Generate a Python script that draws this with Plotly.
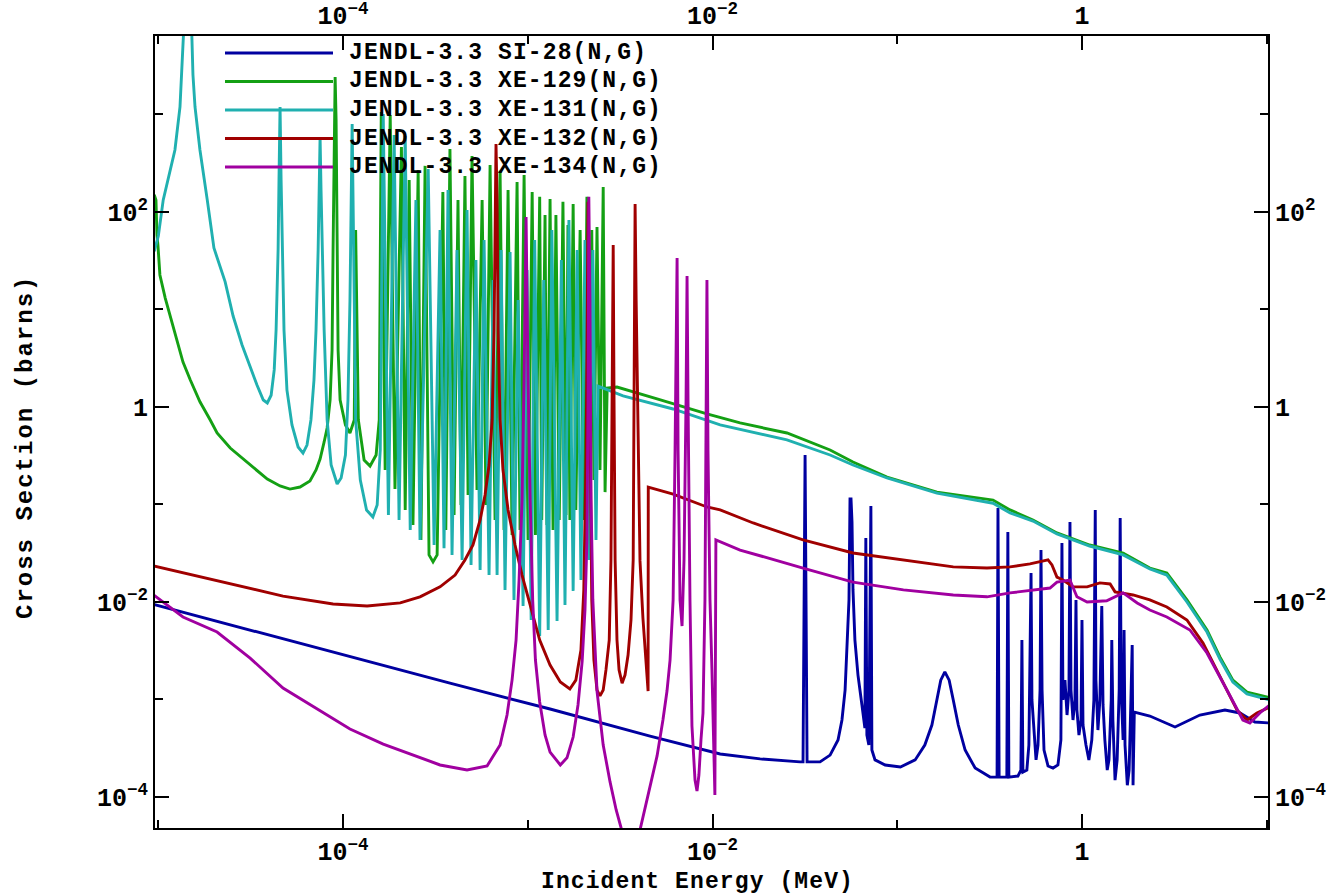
import plotly.graph_objects as go

# JENDL-3.3 radiative capture (n,gamma) cross sections.
# Each series: (incident energy in MeV, cross section in barns)
si28_ng = [
    (9.5e-6, 9.4e-3), (3.14e-5, 5.16e-3), (1.0e-4, 2.86e-3), (3.79e-4, 1.47e-3),
    (1.32e-3, 7.99e-4), (4.59e-3, 4.22e-4), (1.10e-2, 2.76e-4), (1.81e-2, 2.46e-4),
    (2.98e-2, 2.29e-4), (3.09e-2, 2.29e-4), (3.17e-2, 0.322), (3.25e-2, 2.29e-4),
    (3.82e-2, 2.29e-4), (4.33e-2, 2.69e-4), (4.78e-2, 3.84e-4), (5.02e-2, 6.16e-4),
    (5.22e-2, 1.25e-3), (5.35e-2, 3.22e-3), (5.48e-2, 1.05e-2), (5.55e-2, 0.114),
    (5.62e-2, 0.114), (5.69e-2, 0.0661), (5.76e-2, 0.0133), (5.90e-2, 4.07e-3),
    (6.13e-2, 1.78e-3), (6.44e-2, 8.79e-4), (6.68e-2, 5.09e-4), (6.76e-2, 0.0454),
    (6.85e-2, 4.32e-4), (7.02e-2, 3.41e-4), (7.20e-2, 0.0966), (7.29e-2, 3.03e-4),
    (7.58e-2, 2.40e-4), (8.60e-2, 2.13e-4), (0.104, 2.03e-4), (0.125, 2.40e-4),
    (0.141, 3.41e-4), (0.154, 5.47e-4), (0.164, 9.89e-4), (0.172, 1.58e-3),
    (0.181, 1.92e-3), (0.191, 1.58e-3), (0.201, 9.89e-4), (0.214, 5.47e-4),
    (0.233, 3.03e-4), (0.264, 1.98e-4), (0.318, 1.60e-4), (0.347, 1.60e-4),
    (0.351, 0.0921), (0.356, 1.60e-4), (0.392, 1.60e-4), (0.397, 0.0523),
    (0.402, 1.60e-4), (0.450, 1.64e-4), (0.467, 1.89e-4), (0.473, 4.07e-3),
    (0.479, 1.80e-4), (0.503, 1.89e-4), (0.516, 3.41e-4), (0.530, 0.0198),
    (0.536, 9.89e-4), (0.550, 4.86e-4), (0.564, 2.40e-4), (0.578, 3.41e-4),
    (0.593, 1.25e-3), (0.600, 0.0341), (0.608, 1.25e-3), (0.623, 3.03e-4),
    (0.655, 2.08e-4), (0.697, 1.98e-4), (0.741, 2.13e-4), (0.769, 3.84e-4),
    (0.779, 0.0403), (0.789, 9.89e-4), (0.809, 1.58e-3), (0.830, 6.93e-4),
    (0.850, 1.25e-3), (0.861, 0.0661), (0.872, 1.25e-3), (0.894, 6.16e-4),
    (0.916, 9.89e-4), (0.928, 0.0105), (0.939, 7.80e-4), (0.963, 4.32e-4),
    (0.988, 6.16e-4), (1.00, 6.54e-3), (1.013, 5.47e-4), (1.051, 3.41e-4),
    (1.09, 2.40e-4), (1.13, 3.84e-4), (1.16, 9.89e-4), (1.18, 0.0879),
    (1.19, 1.58e-3), (1.22, 4.86e-4), (1.25, 9.89e-4), (1.28, 9.10e-3),
    (1.30, 8.79e-4), (1.33, 3.84e-4), (1.37, 1.89e-4), (1.40, 2.40e-4),
    (1.44, 9.89e-4), (1.45, 4.07e-3), (1.47, 6.16e-4), (1.51, 1.49e-4),
    (1.55, 2.40e-4), (1.59, 1.25e-3), (1.61, 0.0726), (1.63, 1.25e-3),
    (1.67, 3.84e-4), (1.69, 5.16e-3), (1.71, 3.41e-4), (1.76, 1.32e-4),
    (1.80, 1.89e-4), (1.84, 9.89e-4), (1.87, 3.62e-3), (1.89, 1.32e-4),
    (1.92, 7.44e-4), (2.33, 6.77e-4), (3.19, 5.22e-4), (4.35, 6.93e-4),
    (5.94, 7.80e-4), (7.16, 7.27e-4), (8.63, 5.88e-4), (10.4, 5.74e-4),
]

xe129_ng = [
    (9.5e-6, 150), (9.71e-6, 133), (9.83e-6, 58.1), (9.95e-6, 45.8),
    (1.02e-5, 22.6), (1.09e-5, 13.1), (1.16e-5, 8.57), (1.26e-5, 4.86),
    (1.36e-5, 2.89), (1.49e-5, 1.89), (1.68e-5, 1.13), (1.91e-5, 0.736),
    (2.08e-5, 0.541), (2.45e-5, 0.379), (2.88e-5, 0.293), (3.34e-5, 0.231),
    (3.89e-5, 0.182), (4.56e-5, 0.155), (5.16e-5, 0.144), (5.85e-5, 0.151),
    (6.62e-5, 0.174), (7.14e-5, 0.226), (7.51e-5, 0.293), (7.90e-5, 0.438),
    (8.20e-5, 0.609), (8.51e-5, 1.18), (8.72e-5, 3.84), (8.83e-5, 40.7),
    (8.94e-5, 879), (9.06e-5, 2425), (9.17e-5, 879), (9.29e-5, 40.7),
    (9.40e-5, 3.84), (9.64e-5, 1.18), (1.03e-4, 0.654), (1.09e-4, 0.541),
    (1.15e-4, 0.736), (1.17e-4, 65.4), (1.21e-4, 0.736), (1.30e-4, 0.286),
    (1.40e-4, 0.248), (1.51e-4, 0.322), (1.57e-4, 0.736), (1.61e-4, 1061),
    (1.69e-4, 0.226), (1.80e-4, 989), (1.91e-4, 0.144), (2.07e-4, 464),
    (2.17e-4, 0.0879), (2.28e-4, 213), (2.39e-4, 0.0617), (2.55e-4, 270),
    (2.64e-4, 0.0433), (2.78e-4, 297), (2.92e-4, 0.0304), (3.07e-4, 0.0258),
    (3.23e-4, 0.0304), (3.47e-4, 160), (3.60e-4, 0.0548), (3.79e-4, 442),
    (3.99e-4, 0.0780), (4.19e-4, 133), (4.35e-4, 0.0989), (4.57e-4, 234),
    (4.75e-4, 0.125), (4.99e-4, 375), (5.31e-4, 0.141), (5.66e-4, 133),
    (5.94e-4, 0.0989), (6.25e-4, 304), (6.65e-4, 0.0693), (7.08e-4, 264),
    (7.44e-4, 0.0548), (7.82e-4, 168), (8.22e-4, 0.0487), (8.75e-4, 203),
    (9.08e-4, 0.0548), (9.55e-4, 240), (1.003e-3, 0.0433), (1.056e-3, 160),
    (1.10e-3, 0.0487), (1.16e-3, 143), (1.19e-3, 0.0693), (1.24e-3, 93.2),
    (1.27e-3, 0.0617), (1.32e-3, 136), (1.37e-3, 0.0548), (1.42e-3, 93.2),
    (1.48e-3, 0.0693), (1.55e-3, 127), (1.61e-3, 0.0780), (1.65e-3, 73.6),
    (1.69e-3, 0.0693), (1.76e-3, 121), (1.82e-3, 0.0879), (1.92e-3, 65.4),
    (2.01e-3, 0.0693), (2.09e-3, 143), (2.17e-3, 0.111), (2.22e-3, 65.4),
    (2.28e-3, 0.178), (2.37e-3, 70.2), (2.46e-3, 0.226), (2.56e-3, 180),
    (2.62e-3, 0.134), (2.69e-3, 1.56), (3.04e-3, 1.60), (5.01e-3, 1.21),
    (9.33e-3, 0.848), (1.41e-2, 0.686), (2.53e-2, 0.541), (4.33e-2, 0.362),
    (5.76e-2, 0.273), (8.80e-2, 0.191), (0.164, 0.134), (0.330, 0.111),
    (0.408, 0.0879), (0.543, 0.0693), (0.732, 0.0511), (1.10, 0.0384),
    (1.67, 0.0318), (2.33, 0.0223), (2.88, 0.0198), (3.70, 0.0105),
    (4.75, 5.16e-3), (5.58, 2.73e-3), (6.56, 1.58e-3), (7.82, 1.19e-3),
    (10.4, 1.04e-3),
]

xe131_ng = [
    (9.5e-6, 39.5), (1.0e-5, 56.7), (1.063e-5, 133), (1.13e-5, 223),
    (1.23e-5, 432), (1.31e-5, 1194), (1.34e-5, 2542), (1.36e-5, 4590),
    (1.38e-5, 9310), (1.51e-5, 9310), (1.53e-5, 4590), (1.54e-5, 2542),
    (1.58e-5, 1194), (1.68e-5, 432), (1.84e-5, 133), (2.00e-5, 42.7),
    (2.30e-5, 19.2), (2.54e-5, 8.57), (2.84e-5, 4.32), (3.14e-5, 2.58),
    (3.42e-5, 1.68), (3.70e-5, 1.18), (3.89e-5, 1.10), (4.08e-5, 1.32),
    (4.24e-5, 2.40), (4.34e-5, 6.16), (4.45e-5, 40.7), (4.50e-5, 213),
    (4.56e-5, 1194), (4.62e-5, 213), (4.68e-5, 40.7), (4.79e-5, 6.16),
    (4.97e-5, 1.49), (5.29e-5, 0.654), (5.71e-5, 0.389), (6.07e-5, 0.337),
    (6.38e-5, 0.407), (6.70e-5, 0.736), (6.96e-5, 1.89), (7.14e-5, 6.16),
    (7.33e-5, 40.7), (7.42e-5, 168), (7.51e-5, 587), (7.60e-5, 168),
    (7.70e-5, 40.7), (7.90e-5, 6.16), (8.20e-5, 0.736), (8.62e-5, 0.254),
    (9.29e-5, 0.162), (9.76e-5, 0.187), (1.03e-4, 0.322), (1.063e-4, 1.18),
    (1.09e-4, 12.5), (1.12e-4, 800), (1.15e-4, 12.5), (1.17e-4, 0.736),
    (1.24e-4, 0.178), (1.34e-4, 0.0879), (1.45e-4, 0.0744), (1.53e-4, 0.0989),
    (1.59e-4, 0.362), (1.65e-4, 1012), (1.76e-4, 0.0780), (1.89e-4, 615),
    (2.01e-4, 0.0693), (2.17e-4, 601), (2.31e-4, 0.0548), (2.48e-4, 133),
    (2.61e-4, 0.0433), (2.89e-4, 276), (3.11e-4, 0.0384), (3.35e-4, 65.4),
    (3.52e-4, 0.0357), (3.70e-4, 168), (3.89e-4, 0.0304), (4.14e-4, 40.7),
    (4.41e-4, 0.0270), (4.69e-4, 105), (4.93e-4, 0.0240), (5.24e-4, 32.2),
    (5.52e-4, 0.0213), (5.80e-4, 51.6), (6.17e-4, 0.0189), (6.49e-4, 20.1),
    (6.82e-4, 0.0189), (7.17e-4, 40.7), (7.53e-4, 0.0133), (8.02e-4, 38.8),
    (8.42e-4, 0.0105), (8.86e-4, 12.5), (9.43e-4, 9.10e-3), (9.91e-4, 25.4),
    (1.043e-3, 6.54e-3), (1.09e-3, 51.6), (1.16e-3, 4.47e-3), (1.22e-3, 20.1),
    (1.29e-3, 5.16e-3), (1.35e-3, 65.4), (1.44e-3, 6.39e-3), (1.52e-3, 32.2),
    (1.59e-3, 9.33e-3), (1.67e-3, 82.8), (1.76e-3, 0.0130), (1.85e-3, 40.7),
    (1.94e-3, 0.0168), (2.04e-3, 51.6), (2.14e-3, 0.0270), (2.25e-3, 40.7),
    (2.34e-3, 0.0433), (2.40e-3, 1.64), (3.28e-3, 1.30), (6.12e-3, 0.954),
    (1.10e-2, 0.654), (2.53e-2, 0.459), (4.33e-2, 0.322), (5.76e-2, 0.254),
    (8.80e-2, 0.187), (0.164, 0.131), (0.330, 0.103), (0.408, 0.0819),
    (0.543, 0.0677), (0.732, 0.0499), (1.10, 0.0375), (1.67, 0.0304),
    (2.33, 0.0218), (2.88, 0.0189), (3.70, 0.0100), (4.75, 4.92e-3),
    (5.58, 2.60e-3), (6.56, 1.51e-3), (7.82, 1.14e-3), (10.4, 9.89e-4),
]

xe132_ng = [
    (9.5e-6, 0.0234), (2.08e-5, 0.0164), (4.73e-5, 0.0115), (8.83e-5, 9.55e-3),
    (1.35e-4, 9.10e-3), (2.04e-4, 9.78e-3), (2.61e-4, 0.0113), (3.35e-4, 0.0143),
    (4.04e-4, 0.0189), (4.57e-4, 0.0270), (5.05e-4, 0.0384), (5.52e-4, 0.0693),
    (5.87e-4, 0.125), (6.17e-4, 0.254), (6.41e-4, 0.736), (6.57e-4, 6.16),
    (6.65e-4, 133), (6.73e-4, 498), (6.82e-4, 133), (6.91e-4, 6.16),
    (7.08e-4, 0.736), (7.34e-4, 0.226), (7.82e-4, 0.0879), (8.53e-4, 0.0384),
    (9.31e-4, 0.0189), (1.03e-3, 9.33e-3), (1.16e-3, 4.07e-3), (1.32e-3, 2.26e-3),
    (1.50e-3, 1.51e-3), (1.69e-3, 1.28e-3), (1.82e-3, 1.58e-3), (1.94e-3, 3.22e-3),
    (2.01e-3, 0.0133), (2.07e-3, 0.362), (2.09e-3, 12.5), (2.12e-3, 127),
    (2.14e-3, 12.5), (2.17e-3, 0.362), (2.22e-3, 0.0105), (2.28e-3, 2.54e-3),
    (2.37e-3, 1.25e-3), (2.46e-3, 1.09e-3), (2.56e-3, 1.25e-3), (2.65e-3, 2.01e-3),
    (2.76e-3, 4.07e-3), (2.82e-3, 0.0270), (2.86e-3, 1.18), (2.90e-3, 45.8),
    (2.93e-3, 1.18), (2.97e-3, 0.0270), (3.04e-3, 4.07e-3), (3.12e-3, 2.01e-3),
    (3.24e-3, 1.47e-3), (3.36e-3, 1.78e-3), (3.49e-3, 2.86e-3), (3.62e-3, 6.54e-3),
    (3.72e-3, 0.0270), (3.76e-3, 1.18), (3.81e-3, 121), (3.86e-3, 12.5),
    (3.91e-3, 2.13), (3.95e-3, 1.18), (4.05e-3, 0.0264), (4.20e-3, 6.86e-3),
    (4.36e-3, 2.54e-3), (4.48e-3, 1.22e-3), (4.49e-3, 0.151), (6.12e-3, 0.128),
    (9.33e-3, 0.0943), (1.10e-2, 0.0879), (1.66e-2, 0.0646), (3.09e-2, 0.0433),
    (5.76e-2, 0.0318), (0.108, 0.0270), (0.201, 0.0229), (0.306, 0.0223),
    (0.408, 0.0229), (0.523, 0.0246), (0.655, 0.0270), (0.688, 0.0240),
    (0.732, 0.0180), (0.789, 0.0168), (0.894, 0.0143), (1.066, 0.0143),
    (1.25, 0.0157), (1.42, 0.0153), (1.51, 0.0127), (1.89, 0.0118),
    (2.33, 0.0105), (2.88, 8.89e-3), (3.70, 6.54e-3), (4.52, 3.79e-3),
    (5.58, 1.70e-3), (6.90, 7.80e-4), (7.82, 6.16e-4), (8.85, 7.27e-4),
    (10.4, 8.37e-4),
]

xe134_ng = [
    (9.5e-6, 0.0117), (1.36e-5, 7.02e-3), (2.08e-5, 4.92e-3), (3.14e-5, 2.66e-3),
    (4.73e-5, 1.31e-3), (7.23e-5, 7.99e-4), (1.09e-4, 4.98e-4), (1.65e-4, 3.49e-4),
    (2.31e-4, 2.76e-4), (3.35e-4, 2.13e-4), (4.69e-4, 1.89e-4), (6.02e-4, 2.08e-4),
    (7.08e-4, 3.41e-4), (7.72e-4, 6.93e-4), (8.22e-4, 1.58e-3), (8.64e-4, 4.07e-3),
    (8.97e-4, 0.0168), (9.31e-4, 0.111), (9.55e-4, 1.89), (9.79e-4, 88.9),
    (1.003e-3, 1.89), (1.03e-3, 0.111), (1.063e-3, 0.0105), (1.10e-3, 2.54e-3),
    (1.16e-3, 9.43e-4), (1.24e-3, 4.32e-4), (1.32e-3, 2.89e-4), (1.50e-3, 2.13e-4),
    (1.63e-3, 2.52e-4), (1.76e-3, 4.12e-4), (1.87e-3, 8.79e-4), (1.97e-3, 2.48e-3),
    (2.04e-3, 8.28e-3), (2.09e-3, 0.0433), (2.12e-3, 1.18), (2.14e-3, 143),
    (2.17e-3, 12.5), (2.20e-3, 0.111), (2.25e-3, 0.0105), (2.37e-3, 1.22e-3),
    (2.56e-3, 3.41e-4), (2.79e-3, 1.42e-4), (3.01e-3, 7.36e-5), (3.28e-3, 4.07e-5),
    (3.67e-3, 3.00e-5), (4.05e-3, 4.59e-5), (4.48e-3, 1.05e-4), (5.01e-3, 2.64e-4),
    (5.39e-3, 6.16e-4), (5.67e-3, 1.22e-3), (5.89e-3, 2.54e-3), (6.12e-3, 0.0105),
    (6.27e-3, 0.362), (6.43e-3, 33.8), (6.51e-3, 0.362), (6.67e-3, 0.0105),
    (6.84e-3, 5.67e-3), (7.01e-3, 0.0270), (7.19e-3, 1.18), (7.28e-3, 22.1),
    (7.37e-3, 1.18), (7.55e-3, 0.0105), (7.74e-3, 5.34e-4), (8.04e-3, 1.49e-4),
    (8.24e-3, 1.15e-4), (8.44e-3, 1.68e-4), (8.66e-3, 3.84e-4), (8.88e-3, 7.27e-4),
    (9.10e-3, 0.0105), (9.22e-3, 0.362), (9.33e-3, 20.1), (9.45e-3, 0.362),
    (9.69e-3, 0.0105), (9.93e-3, 2.01e-3), (1.017e-2, 2.40e-4), (1.03e-2, 1.05e-4),
    (1.043e-2, 0.0433), (1.41e-2, 0.0341), (3.09e-2, 0.0223), (5.76e-2, 0.0160),
    (0.108, 0.0133), (0.201, 0.0118), (0.306, 0.0113), (0.408, 0.0124),
    (0.671, 0.0139), (0.732, 0.0160), (0.861, 0.0168), (0.939, 0.0113),
    (1.066, 0.0100), (1.36, 0.0103), (1.67, 0.0124), (1.99, 9.78e-3),
    (2.33, 8.28e-3), (2.88, 7.02e-3), (3.84, 5.16e-3), (4.75, 3.00e-3),
    (6.09, 1.25e-3), (7.43, 6.16e-4), (8.11, 5.74e-4), (9.18, 7.27e-4),
    (10.4, 8.79e-4),
]

series_names = [
    "JENDL-3.3 SI-28(N,G)",
    "JENDL-3.3 XE-129(N,G)",
    "JENDL-3.3 XE-131(N,G)",
    "JENDL-3.3 XE-132(N,G)",
    "JENDL-3.3 XE-134(N,G)",
]
series_data = [si28_ng, xe129_ng, xe131_ng, xe132_ng, xe134_ng]
series_colors = ["#0000A0", "#14A014", "#20B0B0", "#A00000", "#A000A0"]

# axis ticks (log scale): labelled every second decade, short ticks in between
x_tick_vals = [1e-4, 1e-2, 1]
x_tick_text = ["10<sup>−4</sup>", "10<sup>−2</sup>", "1"]
x_minor_vals = [1e-5, 1e-3, 1e-1, 10]
y_tick_vals = [1e-4, 1e-2, 1, 1e2]
y_tick_text = ["10<sup>−4</sup>", "10<sup>−2</sup>", "1", "10<sup>2</sup>"]
y_minor_vals = [1e-3, 1e-1, 10, 1e3]

x_range_log = [-5.018, 1.007]
y_range_log = [-4.318, 3.805]

FONT = "Liberation Mono"
W, H = 1340, 894
M_L, M_R, M_T, M_B = 155, 72, 36, 66
PW, PH = W - M_L - M_R, H - M_T - M_B


def px_to_paper(px, py):
    return (px - M_L) / PW, (H - M_B - py) / PH


def spaced(text, spacing):
    return f'<span style="letter-spacing:{spacing}px">{text}</span>'


fig = go.Figure()
for name, pts, color in zip(series_names, series_data, series_colors):
    e_vals = [p[0] for p in pts]
    xs_vals = [p[1] for p in pts]
    fig.add_trace(go.Scatter(
        x=e_vals, y=xs_vals, mode="lines", name=name,
        line=dict(color=color, width=2.9), showlegend=False,
        hoverinfo="skip",
    ))

# empty trace so the mirrored (top / right) axes get a subplot
fig.add_trace(go.Scatter(x=[], y=[], xaxis="x2", yaxis="y2",
                         showlegend=False, hoverinfo="skip"))

tick_font = dict(family=FONT, size=25, color="black", weight="bold")


def axis_style(vals, text, minor_vals, rng):
    return dict(
        type="log", range=rng, showgrid=False, zeroline=False,
        automargin=False,
        showline=True, linecolor="black", linewidth=2,
        ticks="inside", ticklen=14, tickwidth=2, tickcolor="black",
        tickmode="array", tickvals=vals, ticktext=text,
        tickfont=tick_font,
        minor=dict(tickmode="array", tickvals=minor_vals, ticks="inside",
                   ticklen=8, tickwidth=2, tickcolor="black", showgrid=False),
    )


fig.update_layout(
    xaxis=dict(axis_style(x_tick_vals, x_tick_text, x_minor_vals, x_range_log),
               side="bottom"),
    xaxis2=dict(axis_style(x_tick_vals, x_tick_text, x_minor_vals, x_range_log),
                side="top", overlaying="x", anchor="y"),
    yaxis=dict(axis_style(y_tick_vals, y_tick_text, y_minor_vals, y_range_log),
               side="left"),
    yaxis2=dict(axis_style(y_tick_vals, y_tick_text, y_minor_vals, y_range_log),
                side="right", overlaying="y", anchor="x"),
)

# legend: coloured line samples with labels, upper-left inside the frame
legend_rows_py = [53, 81.5, 110, 138.5, 167]
shapes, annotations = [], []
for name, color, py in zip(series_names, series_colors, legend_rows_py):
    x0, yy = px_to_paper(225, py)
    x1, _ = px_to_paper(333, py)
    shapes.append(dict(type="line", xref="paper", yref="paper",
                       x0=x0, x1=x1, y0=yy, y1=yy,
                       line=dict(color=color, width=3)))
    tx, _ = px_to_paper(347, py)
    annotations.append(dict(xref="paper", yref="paper", x=tx, y=yy,
                            xanchor="left", yanchor="middle", showarrow=False,
                            text=spaced(name, 1.1),
                            font=dict(family=FONT, size=23, color="black",
                                      weight="bold")))

ax_x, ax_y = px_to_paper(697, 882)
annotations.append(dict(xref="paper", yref="paper", x=ax_x, y=ax_y,
                        xanchor="center", yanchor="middle", showarrow=False,
                        text=spaced("Incident Energy (MeV)", 1.1),
                        font=dict(family=FONT, size=23, color="black",
                                  weight="bold")))
ay_x, ay_y = px_to_paper(25, 447)
annotations.append(dict(xref="paper", yref="paper", x=ay_x, y=ay_y,
                        xanchor="center", yanchor="middle", showarrow=False,
                        textangle=-90,
                        text=spaced("Cross Section (barns)", 2.0),
                        font=dict(family=FONT, size=24, color="black",
                                  weight="bold")))

fig.update_layout(
    width=W, height=H,
    margin=dict(l=M_L, r=M_R, t=M_T, b=M_B),
    paper_bgcolor="white", plot_bgcolor="white",
    showlegend=False,
    font=dict(family=FONT, size=22, color="black"),
    shapes=shapes, annotations=annotations,
)

fig.write_html("out.html", config={"displayModeBar": False})
